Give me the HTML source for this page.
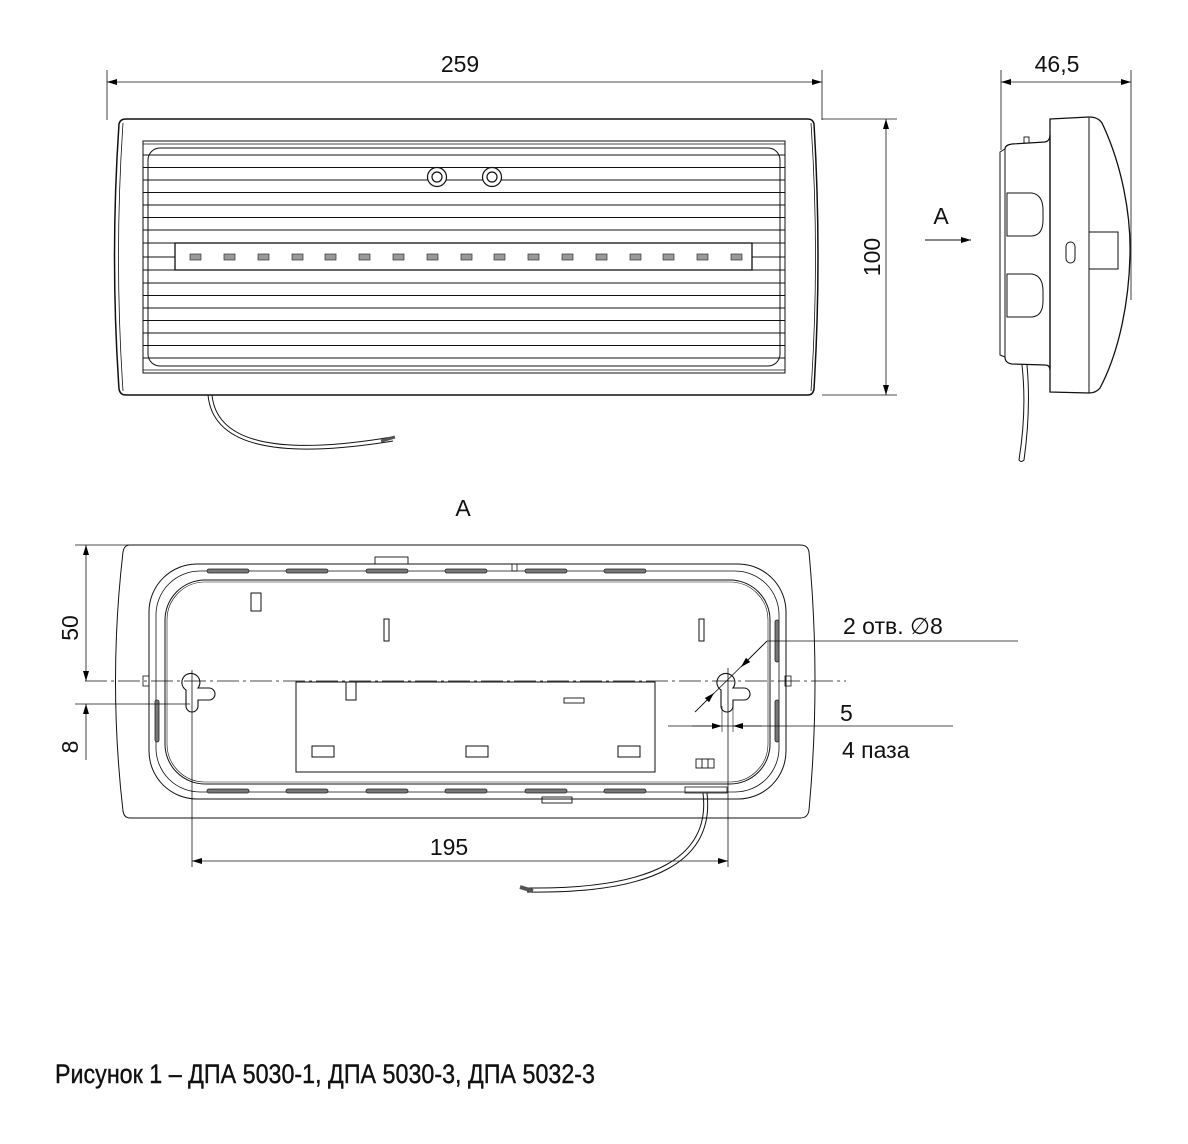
<!DOCTYPE html>
<html><head><meta charset="utf-8"><style>html,body{margin:0;padding:0;background:#fff}svg{display:block}</style></head>
<body>
<svg width="1188" height="1144" viewBox="0 0 1188 1144" xmlns="http://www.w3.org/2000/svg" font-family="Liberation Sans, sans-serif" fill="none" stroke="#111" stroke-width="1.2">
<defs>
<marker id="ar" viewBox="0 0 10 6" refX="10" refY="3" markerWidth="20" markerHeight="6" markerUnits="userSpaceOnUse" orient="auto-start-reverse"><path d="M0,0L10,3L0,6z" fill="#000" stroke="none"/></marker>
</defs>
<!-- FRONT VIEW -->
<line x1="107" y1="70" x2="107" y2="120" stroke-width="0.8"/>
<line x1="822" y1="70" x2="822" y2="120" stroke-width="0.8"/>
<line x1="107" y1="82" x2="822" y2="82" stroke-width="0.8" marker-start="url(#ar)" marker-end="url(#ar)"/>
<text x="460" y="72" font-size="23" fill="#111" stroke="none" text-anchor="middle">259</text>
<path d="M126,119 L808,119 Q813,119 814,124 Q822,257 814,389 Q813,395 808,395 L126,395 Q120,395 119,389 Q110,257 119,124 Q120,119 126,119 Z" stroke-width="1.5"/>
<path d="M123,123 Q114,257 123,391" stroke-width="0.8"/>
<path d="M811,123 Q820,257 811,391" stroke-width="0.8"/>
<rect x="143" y="141" width="642" height="232" stroke-width="1"/>
<line x1="143" y1="144" x2="785" y2="144" stroke-width="0.8"/>
<line x1="143" y1="370" x2="785" y2="370" stroke-width="0.8"/>
<rect x="148" y="148" width="632" height="218" rx="12" stroke-width="1"/>
<g stroke-width="0.9">
<line x1="143" y1="155" x2="785" y2="155"/><line x1="143" y1="167.5" x2="785" y2="167.5"/><line x1="143" y1="180" x2="785" y2="180"/><line x1="143" y1="192.5" x2="785" y2="192.5"/><line x1="143" y1="205" x2="785" y2="205"/><line x1="143" y1="217.5" x2="785" y2="217.5"/><line x1="143" y1="230" x2="785" y2="230"/>
<line x1="143" y1="283" x2="785" y2="283"/><line x1="143" y1="295.5" x2="785" y2="295.5"/><line x1="143" y1="308" x2="785" y2="308"/><line x1="143" y1="320.5" x2="785" y2="320.5"/><line x1="143" y1="333" x2="785" y2="333"/><line x1="143" y1="345.5" x2="785" y2="345.5"/><line x1="143" y1="358" x2="785" y2="358"/>
<line x1="143" y1="243" x2="175" y2="243"/><line x1="143" y1="257" x2="175" y2="257"/><line x1="143" y1="270" x2="175" y2="270"/>
<line x1="752" y1="243" x2="785" y2="243"/><line x1="752" y1="257" x2="785" y2="257"/><line x1="752" y1="270" x2="785" y2="270"/>
<line x1="175" y1="257" x2="752" y2="257" stroke-width="0.6"/>
</g>
<rect x="175" y="243" width="577" height="27" stroke-width="1.3" fill="#fff"/>
<g fill="#999" stroke="#333" stroke-width="0.7">
<rect x="190" y="254" width="11" height="6"/><rect x="224" y="254" width="11" height="6"/><rect x="258" y="254" width="11" height="6"/><rect x="292" y="254" width="11" height="6"/><rect x="325" y="254" width="11" height="6"/><rect x="359" y="254" width="11" height="6"/><rect x="393" y="254" width="11" height="6"/><rect x="427" y="254" width="11" height="6"/><rect x="461" y="254" width="11" height="6"/><rect x="494" y="254" width="11" height="6"/><rect x="528" y="254" width="11" height="6"/><rect x="562" y="254" width="11" height="6"/><rect x="596" y="254" width="11" height="6"/><rect x="630" y="254" width="11" height="6"/><rect x="663" y="254" width="11" height="6"/><rect x="697" y="254" width="11" height="6"/><rect x="731" y="254" width="11" height="6"/>
</g>
<circle cx="437" cy="177" r="9.5" fill="#fff"/><circle cx="437" cy="177" r="5"/>
<circle cx="492" cy="177" r="9.5" fill="#fff"/><circle cx="492" cy="177" r="5"/>
<path d="M208,395 Q215,470 393,441" stroke-width="1"/><path d="M212,395 Q219,466 392,437" stroke-width="1"/>
<path d="M381,441 L395,437" stroke-width="3" stroke="#555"/>
<!-- 100 dim -->
<line x1="822" y1="119" x2="897" y2="119" stroke-width="0.8"/>
<line x1="822" y1="395" x2="897" y2="395" stroke-width="0.8"/>
<line x1="886" y1="119" x2="886" y2="395" stroke-width="0.8" marker-start="url(#ar)" marker-end="url(#ar)"/>
<text x="880" y="257" font-size="23" fill="#111" stroke="none" text-anchor="middle" transform="rotate(-90 880 257)">100</text>
<text x="941" y="224" font-size="23" fill="#111" stroke="none" text-anchor="middle">A</text>
<line x1="925" y1="240" x2="971" y2="240" stroke-width="1" marker-end="url(#ar)"/>
<!-- SIDE VIEW -->
<line x1="1001" y1="70" x2="1001" y2="150" stroke-width="0.8"/>
<line x1="1131" y1="70" x2="1131" y2="300" stroke-width="0.8"/>
<line x1="1001" y1="82" x2="1131" y2="82" stroke-width="0.8" marker-start="url(#ar)" marker-end="url(#ar)"/>
<text x="1057" y="72" font-size="23" fill="#111" stroke="none" text-anchor="middle">46,5</text>
<path d="M1000,152 L1005,149 L1005,357 L1000,355 Z" stroke-width="1"/>
<path d="M1005,149 Q1005,145 1012,144 L1045,142 Q1050,141 1050,135 L1050,370 Q1050,365 1045,365 L1012,364 Q1005,363 1005,357" stroke-width="1.2"/>
<rect x="1024" y="137" width="5" height="6" stroke-width="0.9"/>
<path d="M1050,119 L1089,117 Q1098,117 1102,123 C1122,165 1131,215 1130,255 C1129,300 1120,350 1100,388 Q1096,393 1089,393 L1050,392 Z" stroke-width="1.3"/>
<line x1="1089" y1="118" x2="1089" y2="393" stroke-width="1"/>
<rect x="1089" y="232" width="29" height="37" stroke-width="1"/>
<rect x="1066" y="242" width="9" height="21" rx="4.5" stroke-width="1"/>
<path d="M1007,193 L1032,193 Q1043,195 1043,210 L1043,220 Q1043,235 1032,236 L1007,236 Z" stroke-width="1"/>
<path d="M1007,274 L1032,274 Q1043,276 1043,291 L1043,301 Q1043,316 1032,317 L1007,317 Z" stroke-width="1"/>
<path d="M1022,365 Q1027,410 1019,460 Q1021,463 1024,460 Q1031,410 1027,365" stroke-width="1"/>
<!-- BOTTOM VIEW -->
<text x="463" y="516" font-size="23" fill="#111" stroke="none" text-anchor="middle">A</text>
<path d="M130,545 L800,545 Q808,545 809,552 Q821,681 809,810 Q808,818 800,818 L130,818 Q124,818 123,811 Q108,681 123,552 Q124,545 130,545 Z" stroke-width="1"/>
<rect x="149" y="564" width="637" height="235" rx="48" stroke-width="1"/>
<rect x="156" y="571" width="623" height="221" rx="44" stroke-width="0.8"/>
<rect x="165" y="580" width="605" height="204" rx="40" stroke-width="1"/>
<rect x="167" y="582" width="601" height="200" rx="38" stroke-width="0.6"/>
<g fill="#777" stroke="#222" stroke-width="0.8">
<rect x="207" y="569" width="42" height="4" rx="2"/><rect x="286" y="569" width="42" height="4" rx="2"/><rect x="366" y="569" width="42" height="4" rx="2"/><rect x="445" y="569" width="42" height="4" rx="2"/><rect x="525" y="569" width="42" height="4" rx="2"/><rect x="604" y="569" width="42" height="4" rx="2"/>
<rect x="207" y="789" width="42" height="4" rx="2"/><rect x="286" y="789" width="42" height="4" rx="2"/><rect x="366" y="789" width="42" height="4" rx="2"/><rect x="445" y="789" width="42" height="4" rx="2"/><rect x="525" y="789" width="42" height="4" rx="2"/><rect x="604" y="789" width="42" height="4" rx="2"/>
<rect x="155" y="700" width="4" height="42" rx="2"/><rect x="775" y="620" width="4" height="42" rx="2"/><rect x="775" y="700" width="4" height="42" rx="2"/>
</g>
<rect x="375" y="557" width="33" height="7" stroke-width="0.9"/>
<rect x="512" y="564" width="5" height="7" stroke-width="0.8"/>
<rect x="542" y="797" width="30" height="6" stroke-width="0.9"/>
<rect x="251" y="593" width="10" height="18" stroke-width="1"/>
<rect x="384" y="619" width="5" height="22" stroke-width="1"/>
<rect x="699" y="619" width="5" height="22" stroke-width="1"/>
<rect x="296" y="682" width="359" height="90" stroke-width="1"/>
<rect x="346" y="682" width="10" height="18" stroke-width="1"/>
<rect x="564" y="698" width="20" height="5" stroke-width="0.9"/>
<rect x="312" y="746" width="22" height="11" stroke-width="1"/><rect x="466" y="746" width="22" height="11" stroke-width="1"/><rect x="618" y="746" width="22" height="11" stroke-width="1"/>
<rect x="696" y="759" width="18" height="9" stroke-width="0.9"/><line x1="702" y1="759" x2="702" y2="768" stroke-width="0.9"/><line x1="708" y1="759" x2="708" y2="768" stroke-width="0.9"/>
<rect x="143" y="676" width="6" height="10" stroke-width="0.8"/><rect x="785" y="676" width="6" height="10" stroke-width="0.8"/>
<rect x="685" y="787" width="42" height="6" stroke-width="0.8"/>
<!-- keyholes -->
<path d="M186,690 A9,9 0 1 1 198,688 L209,688 A6,6 0 0 1 209,700 L198,700 L198,706 A6,6 0 0 1 186,706 Z" stroke-width="1.1"/>
<path d="M721,690 A9,9 0 1 1 733,688 L744,688 A6,6 0 0 1 744,700 L733,700 L733,706 A6,6 0 0 1 721,706 Z" stroke-width="1.1"/>
<!-- centerline -->
<line x1="85" y1="681" x2="846" y2="681" stroke-width="0.8" stroke-dasharray="22,4,3,4"/>
<!-- 195 dim -->
<line x1="192" y1="670" x2="192" y2="867" stroke-width="0.8"/>
<line x1="728" y1="668" x2="728" y2="867" stroke-width="0.8"/>
<line x1="192" y1="861" x2="728" y2="861" stroke-width="0.8" marker-start="url(#ar)" marker-end="url(#ar)"/>
<text x="449" y="855" font-size="23" fill="#111" stroke="none" text-anchor="middle">195</text>
<!-- 50 / 8 dims -->
<line x1="75" y1="545" x2="130" y2="545" stroke-width="0.8"/>
<line x1="75" y1="704" x2="190" y2="704" stroke-width="0.8"/>
<line x1="86" y1="545" x2="86" y2="681" stroke-width="0.8" marker-start="url(#ar)" marker-end="url(#ar)"/>
<line x1="86" y1="760" x2="86" y2="704" stroke-width="0.8" marker-end="url(#ar)"/>
<text x="78" y="628" font-size="23" fill="#111" stroke="none" text-anchor="middle" transform="rotate(-90 78 628)">50</text>
<text x="78" y="747" font-size="23" fill="#111" stroke="none" text-anchor="middle" transform="rotate(-90 78 747)">8</text>
<!-- callouts -->
<line x1="767" y1="641" x2="1018" y2="641" stroke-width="0.8"/>
<line x1="767" y1="641" x2="695" y2="712" stroke-width="0.8"/>
<line x1="767" y1="641" x2="741" y2="667" stroke-width="0.8" marker-end="url(#ar)"/>
<line x1="695" y1="712" x2="714" y2="693" stroke-width="0.8" marker-end="url(#ar)"/>
<text x="843" y="634" font-size="23" fill="#111" stroke="none">2 отв. ∅8</text>
<line x1="668" y1="726" x2="953" y2="726" stroke-width="0.8"/>
<line x1="692" y1="726" x2="722" y2="726" stroke-width="0.8" marker-end="url(#ar)"/>
<line x1="762" y1="726" x2="733" y2="726" stroke-width="0.8" marker-end="url(#ar)"/>
<line x1="722" y1="706" x2="722" y2="732" stroke-width="0.6"/>
<line x1="733" y1="706" x2="733" y2="732" stroke-width="0.6"/>
<text x="840" y="721" font-size="23" fill="#111" stroke="none">5</text>
<text x="842" y="758" font-size="23" fill="#111" stroke="none">4 паза</text>
<!-- cable -->
<path d="M703,793 Q715,890 528,888" stroke-width="1"/><path d="M707,793 Q719,895 527,892" stroke-width="1"/>
<path d="M520,887 L533,891" stroke-width="4" stroke="#555"/>
<!-- caption -->
<text x="55" y="1083" font-size="27" fill="#111" stroke="#111" stroke-width="0.4" textLength="540" lengthAdjust="spacingAndGlyphs">Рисунок 1 – ДПА 5030-1, ДПА 5030-3, ДПА 5032-3</text>
</svg>
</body></html>
